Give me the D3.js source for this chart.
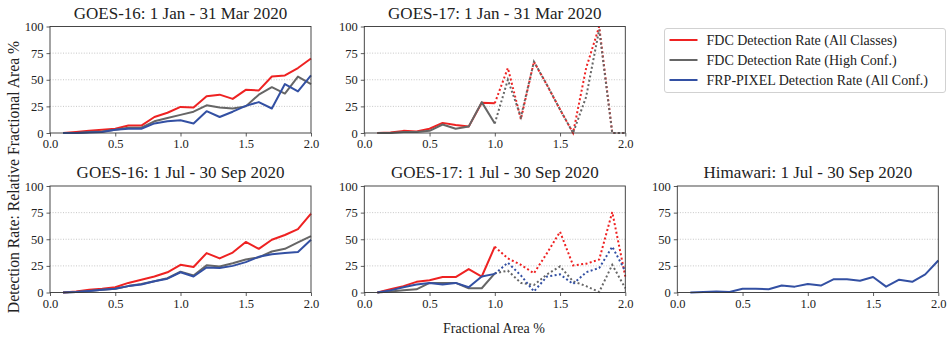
<!DOCTYPE html>
<html><head><meta charset="utf-8">
<script src="https://cdn.jsdelivr.net/npm/d3@7/dist/d3.min.js"></script>
<style>
html,body{margin:0;padding:0;background:#fff;}
svg{display:block;}
svg text{font-family:"Liberation Serif","Times New Roman",serif;fill:#222;}
</style></head>
<body>
<div id="chart"></div>
<script>
// ---------- DATA ----------
const fractionalArea = [0.1,0.2,0.3,0.4,0.5,0.6,0.7,0.8,0.9,1.0,1.1,1.2,1.3,1.4,1.5,1.6,1.7,1.8,1.9,2.0];
const xTicks = [0.0,0.5,1.0,1.5,2.0];
const yTicks = [0,25,50,75,100];
const seriesNames = ["FDC Detection Rate (All Classes)","FDC Detection Rate (High Conf.)","FRP-PIXEL Detection Rate (All Conf.)"];
const panelTitles = ["GOES-16: 1 Jan - 31 Mar 2020","GOES-17: 1 Jan - 31 Mar 2020","GOES-16: 1 Jul - 30 Sep 2020","GOES-17: 1 Jul - 30 Sep 2020","Himawari: 1 Jul - 30 Sep 2020"];

// GOES-16, Jan-Mar
const g16JanAll  = [0,1,2,3,4,7,7,15,19,24.5,24,34.5,36,32,40.5,40,53,54,61,70];
const g16JanHigh = [0,0,1,1.5,3,5,5,11,14,17,20,26,24,23,25,36,43,37,53,46];
const g16JanFrp  = [0,0,0.5,1,3,4,4,9,11,12,9,20.5,15,20,25.5,29,23,46,39,54];
// GOES-17, Jan-Mar (no FRP-PIXEL)
const g17JanAll  = [0,0.5,2,1.5,4,9.5,7.5,6,28.5,28,61,13,67,45,22,0,61,100,0,0];
const g17JanHigh = [0,0,1,1,2,8,4,6,29,9,50,15,67,45,22,0,34,97,0,0];
// GOES-16, Jul-Sep
const g16JulAll  = [0,1,2.5,3.5,5,9,12,15,19,26,24,37,32,37.5,47.5,41,49.5,54,59.5,74];
const g16JulHigh = [0,0.5,1.5,2.5,3.5,6,8,10.5,13.5,19.5,16,25.5,24.5,27.5,31,33,38.5,41,47,53];
const g16JulFrp  = [0,0.5,1.5,2.5,3.5,6,7.5,10.5,13,19,15,23.5,23,25,28.5,33.5,36,37,38,49.5];
// GOES-17, Jul-Sep
const g17JulAll  = [0,3,6,10,11.5,14.5,14.5,22,15,43,32,26,18,37,57,25.5,27,31,75.5,15];
const g17JulHigh = [0,1,2,3,9,9,9,4,4,18,20.5,9,7,17,24.5,10.5,6,0.5,26,4];
const g17JulFrp  = [0,2,5,7.5,9,7.5,9,5,15,17.5,28,16,1,15,17,8,19,23,43,20];
// Himawari, Jul-Sep
const himJulFrp  = [0,0.5,1,0.5,3.5,3.5,3,6.5,5.5,8,6.5,12.5,12.5,11,14.5,5.5,12,10,17,30];

const xLabel = "Fractional Area %";
const yLabel = "Detection Rate: Relative Fractional Area %";
const unreliableFrom = 1.0; // GOES-17 values beyond this are drawn dotted

// ---------- STYLE / LAYOUT ----------
const W = 948, H = 341;
const FONT = '"Liberation Serif","Times New Roman",serif';
const colors = ["#ee2222", "#666666", "#3350a3"];
const colX = [50, 364.3, 677.3];
const rowY = [26.5, 186];
const pw = 261, ph = 106.5;

const panels = [
  {title: panelTitles[0], col:0, row:0, series:[[0,g16JanAll],[1,g16JanHigh],[2,g16JanFrp]], split:false},
  {title: panelTitles[1], col:1, row:0, series:[[0,g17JanAll],[1,g17JanHigh]], split:true},
  {title: panelTitles[2], col:0, row:1, series:[[0,g16JulAll],[1,g16JulHigh],[2,g16JulFrp]], split:false},
  {title: panelTitles[3], col:1, row:1, series:[[0,g17JulAll],[1,g17JulHigh],[2,g17JulFrp]], split:true},
  {title: panelTitles[4], col:2, row:1, series:[[2,himJulFrp]], split:false}
];

const svg = d3.select("#chart").append("svg").attr("width", W).attr("height", H)
  .attr("font-family", FONT);

panels.forEach(p => {
  const x = d3.scaleLinear().domain([0, 2]).range([0, pw]);
  const y = d3.scaleLinear().domain([0, 100]).range([ph, 0]);
  const g = svg.append("g").attr("transform", `translate(${colX[p.col]},${rowY[p.row]})`);

  // grid
  g.append("g").selectAll("line").data(yTicks.filter(t => t > 0 && t < 100)).join("line")
    .attr("x1", 0).attr("x2", pw).attr("y1", d => y(d)).attr("y2", d => y(d))
    .attr("stroke", "#b8b8b8").attr("stroke-width", 0.8).attr("stroke-dasharray", "1,1.6");

  // axes
  const xa = g.append("g").attr("transform", `translate(0,${ph})`)
    .call(d3.axisBottom(x).tickValues(xTicks).tickFormat(d3.format(".1f")).tickSize(3.5).tickPadding(3));
  const ya = g.append("g")
    .call(d3.axisLeft(y).tickValues(yTicks).tickSize(3.5).tickPadding(3));
  [xa, ya].forEach(a => {
    a.attr("font-family", FONT).attr("font-size", 12.5);
    a.select(".domain").remove();
    a.selectAll("line").attr("stroke", "#333").attr("stroke-width", 0.8);
    a.selectAll("text").attr("fill", "#222");
  });

  const line = d3.line().x(d => x(d[0])).y(d => y(d[1]));
  p.series.forEach(([si, vals]) => {
    const pts = fractionalArea.map((a, i) => [a, vals[i]]);
    if (p.split) {
      const solid = pts.filter(d => d[0] <= unreliableFrom + 1e-9);
      const dotted = pts.filter(d => d[0] >= unreliableFrom - 1e-9);
      g.append("path").attr("d", line(solid)).attr("fill", "none").attr("stroke", colors[si])
        .attr("stroke-width", 2).attr("stroke-linejoin", "round");
      g.append("path").attr("d", line(dotted)).attr("fill", "none").attr("stroke", colors[si])
        .attr("stroke-width", 2).attr("stroke-dasharray", "2,2.4");
    } else {
      g.append("path").attr("d", line(pts)).attr("fill", "none").attr("stroke", colors[si])
        .attr("stroke-width", 2).attr("stroke-linejoin", "round");
    }
  });

  // frame
  g.append("rect").attr("x", 0).attr("y", 0).attr("width", pw).attr("height", ph)
    .attr("fill", "none").attr("stroke", "#333").attr("stroke-width", 0.9);

  // title
  g.append("text").attr("x", pw / 2).attr("y", -8).attr("text-anchor", "middle")
    .attr("font-size", 17).text(p.title);
});

// legend
const lg = svg.append("g").attr("transform", "translate(664.5,28.5)");
lg.append("rect").attr("width", 281).attr("height", 64).attr("rx", 2.5)
  .attr("fill", "#fff").attr("stroke", "#cccccc").attr("stroke-width", 0.9);
seriesNames.forEach((n, i) => {
  const yy = 11.5 + i * 20;
  lg.append("line").attr("x1", 5).attr("x2", 33).attr("y1", yy).attr("y2", yy)
    .attr("stroke", colors[i]).attr("stroke-width", 2);
  lg.append("text").attr("x", 42).attr("y", yy + 4.5).attr("font-size", 14).text(n);
});

// axis labels
svg.append("text").attr("x", 494).attr("y", 333).attr("text-anchor", "middle")
  .attr("font-size", 14).text(xLabel);
svg.append("text").attr("transform", "translate(19,177) rotate(-90)").attr("text-anchor", "middle")
  .attr("font-size", 15.7).text(yLabel);
</script>
</body></html>
